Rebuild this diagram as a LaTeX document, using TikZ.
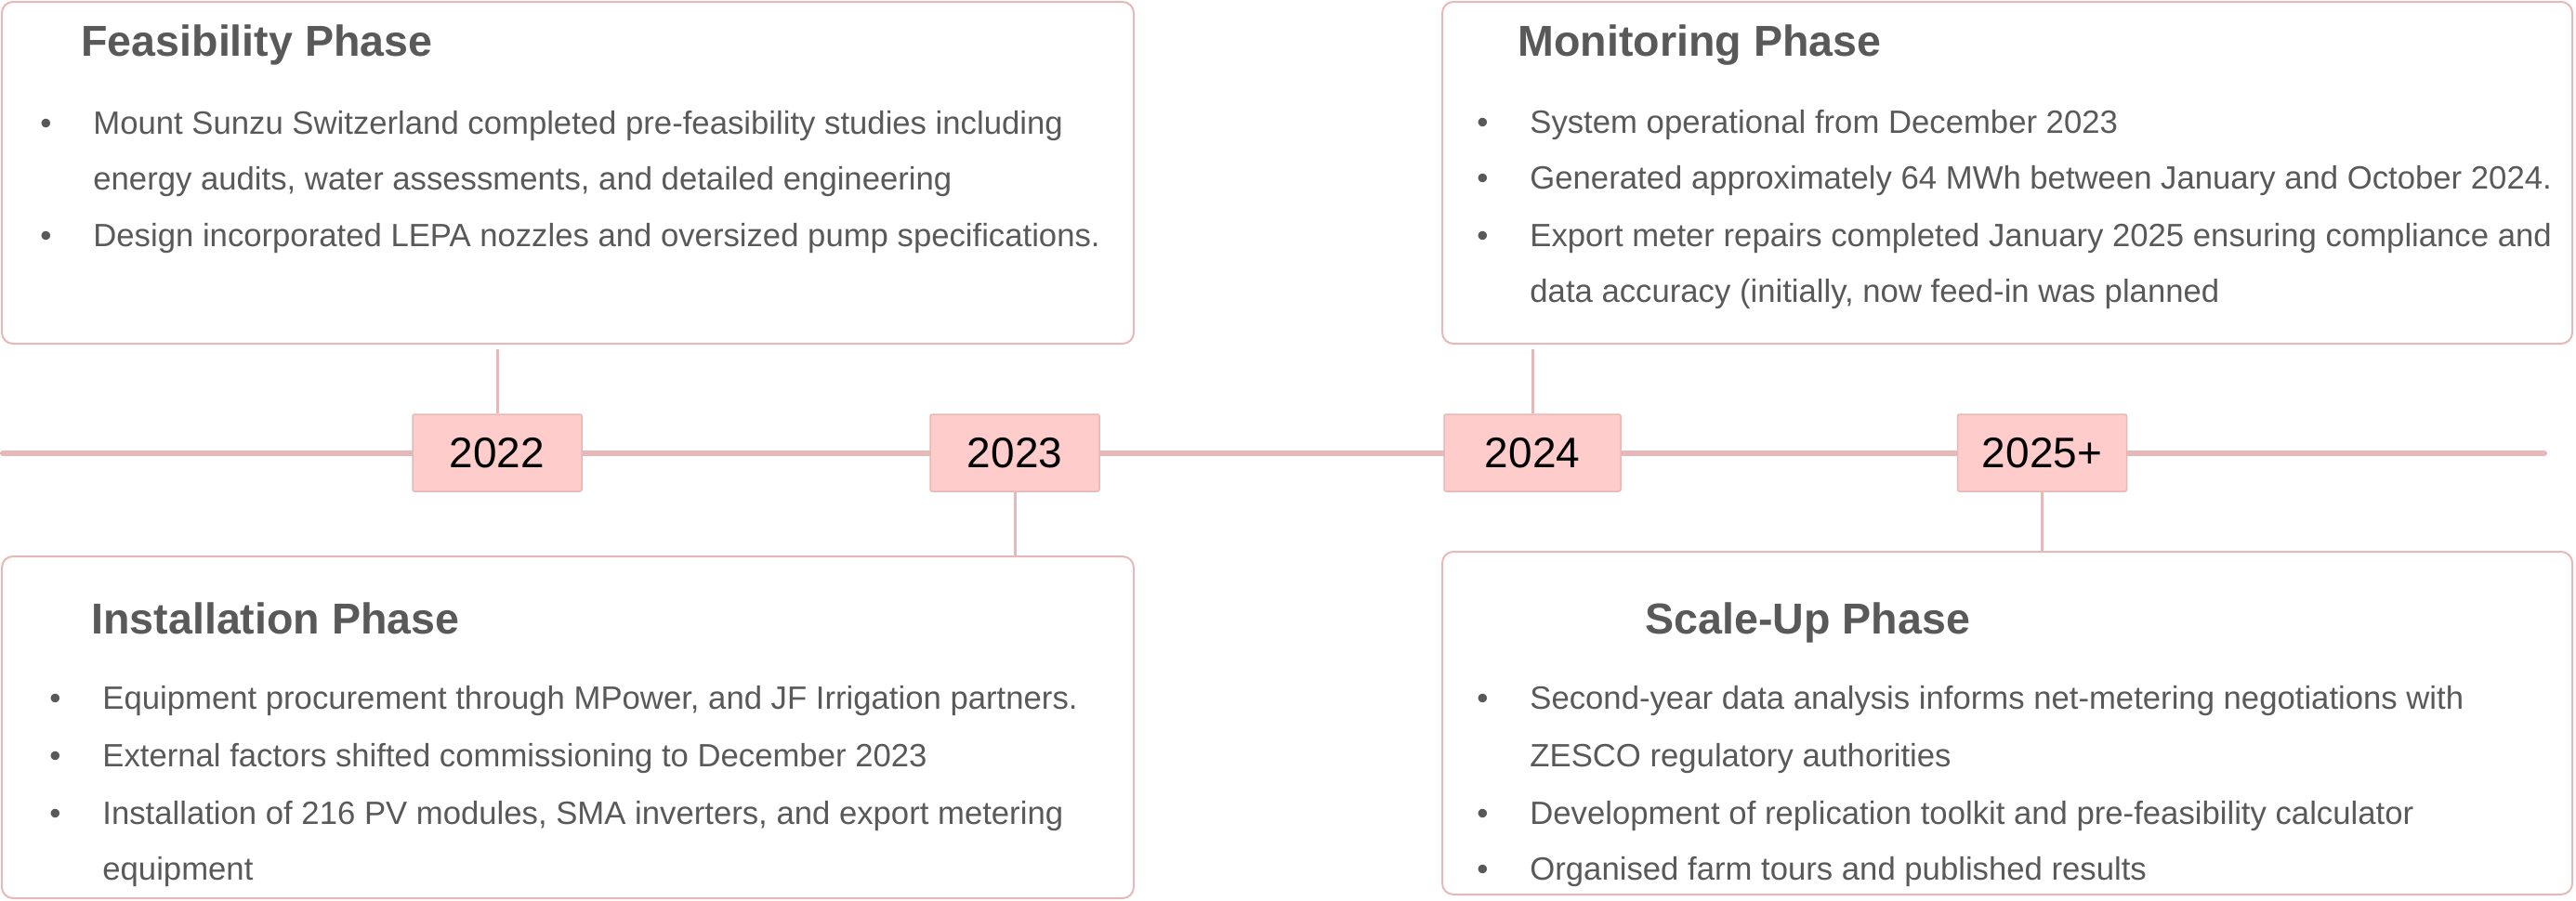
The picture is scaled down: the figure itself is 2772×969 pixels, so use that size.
\documentclass[tikz,border=0pt]{standalone}
\usepackage{fontspec}
\setmainfont{Liberation Sans}
\usetikzlibrary{positioning,calc}
\pgfdeclarelayer{bg}
\pgfsetlayers{bg,main}
\definecolor{rosegray}{HTML}{E6B8B7}
\definecolor{yearfill}{HTML}{FFCCCC}
\definecolor{txtgray}{HTML}{595959}
\newcommand{\bul}{\llap{\makebox[28.5pt][l]{\textbullet}}}
\tikzset{
  phase/.style={draw=rosegray, line width=1pt, rounded corners=6pt, minimum width=609pt, minimum height=184pt},
  year/.style={draw=rosegray, fill=yearfill, line width=0.75pt, rounded corners=1pt, minimum width=91pt, minimum height=41.5pt, inner sep=0pt, font=\fontsize{23}{27}\selectfont},
  title/.style={anchor=base west, inner sep=0pt, text=txtgray, font=\bfseries\fontsize{23.3}{28}\selectfont},
  item/.style={anchor=base west, inner sep=0pt, text=txtgray, font=\fontsize{17.35}{20}\selectfont},
  link/.style={draw=rosegray, line width=1.5pt},
  timeline/.style={draw=rosegray, line width=3pt, line cap=round}
}

\begin{document}
\begin{tikzpicture}[x=0.5pt,y=-0.5pt]
  \useasboundingbox (0,0) rectangle (2772,969);
  % phase boxes
  \node[phase] (feas) at (611,186) {};
  \node[phase, minimum width=608pt] (mon) at (2160,186) {};
  \node[phase] (inst) at (611,783) {};
  \node[phase, minimum width=608pt, minimum height=184.5pt] (scale) at (2160,778.5) {};
  % years
  \node[year] (y2022) at (535,487.5) {2022};
  \node[year] (y2023) at (1092,487.5) {2023};
  \node[year, minimum width=95pt] (y2024) at (1649,487.5) {2024};
  \node[year] (y2025) at (2197.5,487.5) {2025+};
  \coordinate (tl-start) at (3,488);
  \coordinate (tl-end) at (2738,488);
  \begin{pgfonlayer}{bg}
    \draw[timeline] (tl-start) -- (tl-end);
  \end{pgfonlayer}
  \draw[link, shorten >=2.5pt] (y2022) -- (y2022 |- feas.south);
  \draw[link, shorten >=2.5pt] (y2024) -- (y2024 |- mon.south);
  \draw[link] (y2023) -- (y2023 |- inst.north);
  \draw[link] (y2025) -- (y2025 |- scale.north);
  % Feasibility
  \node[title] (feas-t) at (87,61) {Feasibility Phase};
  \node[item] (feas-1) at (100,144) {\bul Mount Sunzu Switzerland completed pre-feasibility studies including};
  \node[item] (feas-2) at (100,204) {energy audits, water assessments, and detailed engineering};
  \node[item] (feas-3) at (100,265) {\bul Design incorporated LEPA nozzles and oversized pump specifications.};
  % Monitoring
  \node[title] (mon-t) at (1633,61) {Monitoring Phase};
  \node[item] (mon-1) at (1646,143) {\bul System operational from December 2023};
  \node[item] (mon-2) at (1646,203) {\bul Generated approximately 64 MWh between January and October 2024.};
  \node[item] (mon-3) at (1646,265) {\bul Export meter repairs completed January 2025 ensuring compliance and};
  \node[item] (mon-4) at (1646,325) {data accuracy (initially, now feed-in was planned};
  % Installation
  \node[title] (inst-t) at (98,682) {Installation Phase};
  \node[item] (inst-1) at (110,763) {\bul Equipment procurement through MPower, and JF Irrigation partners.};
  \node[item] (inst-2) at (110,825) {\bul External factors shifted commissioning to December 2023};
  \node[item] (inst-3) at (110,887) {\bul Installation of 216 PV modules, SMA inverters, and export metering};
  \node[item] (inst-4) at (110,947) {equipment};
  % Scale-Up
  \node[title] (scale-t) at (1770,682) {Scale-Up Phase};
  \node[item] (scale-1) at (1646,763) {\bul Second-year data analysis informs net-metering negotiations with};
  \node[item] (scale-2) at (1646,825) {ZESCO regulatory authorities};
  \node[item] (scale-3) at (1646,887) {\bul Development of replication toolkit and pre-feasibility calculator};
  \node[item] (scale-4) at (1646,947) {\bul Organised farm tours and published results};
\end{tikzpicture}
\end{document}
